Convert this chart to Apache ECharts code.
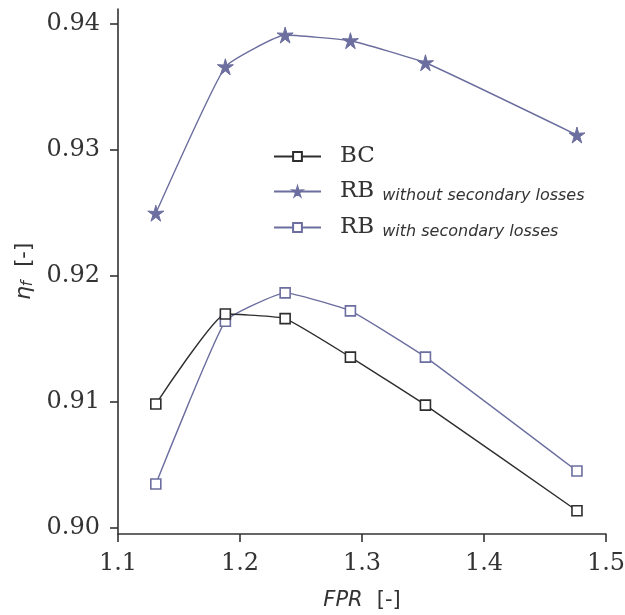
<!DOCTYPE html>
<html>
<head>
<meta charset="utf-8">
<script src="https://cdn.jsdelivr.net/npm/echarts@6/dist/echarts.min.js"></script>
<style>
  html, body { margin: 0; padding: 0; background: #fff; }
  #container { width: 625px; height: 615px; }
</style>
</head>
<body>
<div id="container"></div>
<script>
// FPR values for each operating point
let fpr = [1.131, 1.188, 1.237, 1.2905, 1.352, 1.4762];
// eta_f for each case
let bc = [0.90982, 0.91698, 0.91661, 0.91355, 0.90974, 0.90135];
let rbWithout = [0.92498, 0.93661, 0.93913, 0.93868, 0.93693, 0.93119];
let rbWith = [0.90347, 0.91640, 0.91865, 0.91722, 0.91355, 0.90450];
let yTicks = [0.90, 0.91, 0.92, 0.93, 0.94];

let dark = '#2e2e2e';
let blue = '#6b6e9e';
// five point star, thin points (like matplotlib '*')
let star = 'path://M50,0 L60,37 L98,35 L67,58 L79,95 L50,72 L21,95 L33,58 L2,35 L40,37 Z';

function pairs(ys) {
    let out = [];
    for (let i = 0; i < fpr.length; i++) out.push([fpr[i], ys[i]]);
    return out;
}

let dom = document.getElementById("container");
let myChart = echarts.init(dom, null, { renderer: 'canvas' });

let legendRich = {
    main: { fontFamily: 'DejaVu Serif', fontSize: 23, color: '#333', padding: [0, 0, 0, 14] },
    sub: { fontFamily: 'DejaVu Sans', fontStyle: 'italic', fontSize: 16, color: '#333', padding: [9, 0, 0, 8] }
};

let option = {
    animation: false,
    grid: { left: 118, right: 19, top: 9, bottom: 81, outerBoundsMode: 'none', containLabel: false },
    legend: {
        left: 268,
        top: 140,
        orient: 'vertical',
        itemWidth: 47,
        itemHeight: 11,
        itemGap: 12,
        data: ['BC', 'RBw', 'RBs'],
        formatter: function (name) {
            if (name === 'BC') return '{main|BC}';
            if (name === 'RBw') return '{main|RB}{sub|without secondary losses}';
            return '{main|RB}{sub|with secondary losses}';
        },
        textStyle: { rich: legendRich }
    },
    xAxis: {
        type: 'value',
        min: 1.1,
        max: 1.5,
        interval: 0.1,
        name: '{i|FPR}{g|}{n|[-]}',
        nameLocation: 'middle',
        nameGap: 56,
        nameTextStyle: {
            rich: {
                i: { fontFamily: 'DejaVu Sans', fontStyle: 'italic', fontSize: 21, color: '#333' },
                g: { width: 14 },
                n: { fontFamily: 'DejaVu Sans', fontSize: 21, color: '#333' }
            }
        },
        axisLine: { lineStyle: { color: '#333', width: 1.6 } },
        axisTick: { length: 8, lineStyle: { color: '#333', width: 1.6 } },
        axisLabel: {
            fontFamily: 'DejaVu Serif', fontSize: 24, color: '#333', margin: 18,
            formatter: function (v) { return v.toFixed(1); }
        },
        splitLine: { show: false }
    },
    yAxis: {
        type: 'value',
        min: 0.8995,
        max: 0.9412,
        name: '{i|η}{s|f}{g|}{n|[-]}',
        nameLocation: 'middle',
        nameGap: 82,
        nameRotate: 90,
        nameTextStyle: {
            rich: {
                i: { fontFamily: 'DejaVu Sans', fontStyle: 'italic', fontSize: 22, color: '#333' },
                s: { fontFamily: 'DejaVu Sans', fontStyle: 'italic', fontSize: 15, color: '#333', padding: [8, 0, 0, 0] },
                g: { width: 14 },
                n: { fontFamily: 'DejaVu Sans', fontSize: 21, color: '#333' }
            }
        },
        axisLine: { show: true, lineStyle: { color: '#333', width: 1.6 } },
        axisTick: { show: true, length: 8, customValues: yTicks, lineStyle: { color: '#333', width: 1.6 } },
        axisLabel: {
            customValues: yTicks,
            fontFamily: 'DejaVu Serif', fontSize: 24, color: '#333', margin: 18,
            formatter: function (v) { return v.toFixed(2); }
        },
        splitLine: { show: false }
    },
    series: [
        {
            name: 'BC',
            type: 'line',
            data: pairs(bc),
            smooth: 0.12,
            symbol: 'rect',
            symbolSize: 10,
            itemStyle: { color: '#fff', borderColor: dark, borderWidth: 1.6 },
            lineStyle: { color: dark, width: 1.4 },
            z: 3
        },
        {
            name: 'RBw',
            type: 'line',
            data: pairs(rbWithout),
            smooth: 0.12,
            symbol: star,
            symbolSize: 16,
            itemStyle: { color: blue, borderColor: blue, borderWidth: 1 },
            lineStyle: { color: blue, width: 1.4 },
            z: 2
        },
        {
            name: 'RBs',
            type: 'line',
            data: pairs(rbWith),
            smooth: 0.12,
            symbol: 'rect',
            symbolSize: 10,
            itemStyle: { color: '#fff', borderColor: blue, borderWidth: 1.6 },
            lineStyle: { color: blue, width: 1.4 },
            z: 2
        }
    ]
};
myChart.setOption(option);
</script>
</body>
</html>
